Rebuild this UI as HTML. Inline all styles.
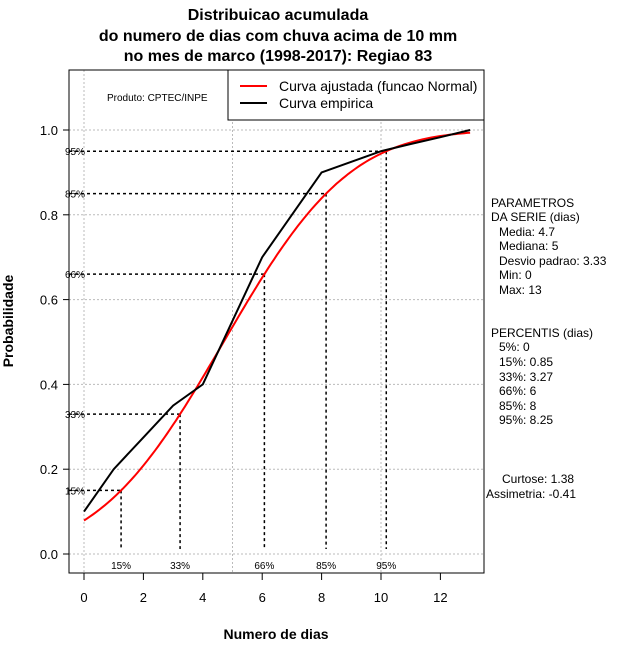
<!DOCTYPE html>
<html><head><meta charset="utf-8"><style>
body{margin:0;background:#fff;}
svg{display:block;font-family:"Liberation Sans",sans-serif;}
</style></head><body>
<svg id="chart" width="640" height="660" viewBox="0 0 640 660">
<g font-weight="bold" font-size="16" text-anchor="middle">
<text x="278" y="20">Distribuicao acumulada</text>
<text x="278" y="41">do numero de dias com chuva acima de 10 mm</text>
<text x="278" y="61">no mes de marco (1998-2017): Regiao 83</text>
</g>
<g id="grid"></g>
<g id="marks"></g>
<rect x="69" y="70" width="415" height="503" fill="none" stroke="#000"/>
<g>
<rect x="228" y="70" width="256" height="50" fill="#fff" stroke="#000"/>
<line x1="240" y1="86" x2="267" y2="86" stroke="#f00" stroke-width="2"/>
<text x="279" y="91" font-size="14">Curva ajustada (funcao Normal)</text>
<line x1="240" y1="103" x2="267" y2="103" stroke="#000" stroke-width="2"/>
<text x="279" y="108" font-size="14">Curva empirica</text>
</g>
<text x="107" y="101" font-size="10">Produto: CPTEC/INPE</text>
<text x="276" y="639" font-size="14" font-weight="bold" text-anchor="middle">Numero de dias</text>
<text transform="translate(13,321) rotate(-90)" font-size="14" font-weight="bold" text-anchor="middle">Probabilidade</text>
<g font-size="12">
<text x="491" y="207">PARAMETROS</text>
<text x="491" y="221">DA SERIE (dias)</text>
<text x="499" y="236">Media: 4.7</text>
<text x="499" y="250">Mediana: 5</text>
<text x="499" y="265">Desvio padrao: 3.33</text>
<text x="499" y="279">Min: 0</text>
<text x="499" y="294">Max: 13</text>
<text x="491" y="337">PERCENTIS (dias)</text>
<text x="499" y="351">5%: 0</text>
<text x="499" y="366">15%: 0.85</text>
<text x="499" y="381">33%: 3.27</text>
<text x="499" y="395">66%: 6</text>
<text x="499" y="410">85%: 8</text>
<text x="499" y="424">95%: 8.25</text>
<text x="502" y="483">Curtose: 1.38</text>
<text x="486" y="498">Assimetria: -0.41</text>
</g>
</svg>
<script>
const empDays=[0,1,2,3,4,5,6,7,8,9,10,11,12,13];
const empProb=[0.1,0.2,0.275,0.35,0.4,0.55,0.7,0.8,0.9,0.925,0.95,0.967,0.983,1.0];
const fitMean=4.7;
const fitSd=3.33;
const pctLevels=[0.15,0.33,0.66,0.85,0.95];
const pctLabels=["15%","33%","66%","85%","95%"];
const xTicks=[0,2,4,6,8,10,12];
const yTicks=[0,0.2,0.4,0.6,0.8,1.0];
const yTickLabels=["0.0","0.2","0.4","0.6","0.8","1.0"];
const xGrid=[0,5,10];

const NS="http://www.w3.org/2000/svg";
const X=v=>84+v*29.7;
const Y=p=>554-p*424;
function mk(t,a,parent){const e=document.createElementNS(NS,t);for(const k in a)e.setAttribute(k,a[k]);parent.appendChild(e);return e;}
function erf(x){const s=Math.sign(x);x=Math.abs(x);const t=1/(1+0.3275911*x);const y=1-(((((1.061405429*t-1.453152027)*t)+1.421413741)*t-0.284496736)*t+0.254829592)*t*Math.exp(-x*x);return s*y;}
const cdf=x=>0.5*(1+erf((x-fitMean)/(fitSd*Math.SQRT2)));
function invcdf(p){let lo=-20,hi=30;for(let i=0;i<60;i++){const m=(lo+hi)/2;if(cdf(m)<p)lo=m;else hi=m;}return (lo+hi)/2;}
const svg=document.getElementById('chart');
const grid=document.getElementById('grid');
const marks=document.getElementById('marks');
yTicks.forEach((t,i)=>{
 const g=mk('line',{x1:69,x2:484,y1:Y(t),y2:Y(t),stroke:'#bbb','stroke-dasharray':'2,2'},grid);
 
 
 const tk=mk('line',{x1:63,x2:69,y1:Y(t),y2:Y(t),stroke:'#000'},grid);
 
 
 const lb=mk('text',{x:58,y:Y(t)+5,'font-size':13,'text-anchor':'end'},grid);
 lb.textContent=yTickLabels[i];
 
 
});
xGrid.forEach(v=>{
 const g=mk('line',{x1:X(v),x2:X(v),y1:70,y2:573,stroke:'#bbb','stroke-dasharray':'2,2'},grid);
 
 
});
xTicks.forEach(v=>{
 const tk=mk('line',{x1:X(v),x2:X(v),y1:573,y2:580,stroke:'#000'},grid);
 
 
 const lb=mk('text',{x:X(v),y:602,'font-size':13,'text-anchor':'middle'},grid);
 lb.textContent=String(v);
 
 
});
pctLevels.forEach((p,i)=>{
 const xv=invcdf(p);
 const h=mk('line',{x1:69,x2:X(xv),y1:Y(p),y2:Y(p),stroke:'#000','stroke-width':1.5,'stroke-dasharray':'3,3'},marks);
 
 
 const v=mk('line',{x1:X(xv),x2:X(xv),y1:Y(p),y2:549,stroke:'#000','stroke-width':1.5,'stroke-dasharray':'3,3'},marks);
 
 
 const l1=mk('text',{x:65,y:Y(p)+4,'font-size':10},marks);
 l1.textContent=pctLabels[i];
 
 
 const l2=mk('text',{x:X(xv),y:569,'font-size':10,'text-anchor':'middle'},marks);
 l2.textContent=pctLabels[i];
 
 
});
let d='';
for(let i=0;i<=130;i++){const xv=i*0.1;d+=(i?'L':'M')+X(xv).toFixed(1)+','+Y(cdf(xv)).toFixed(1);}
const fit=mk('path',{d:d,fill:'none',stroke:'#f00','stroke-width':2},marks);


const emp=mk('polyline',{points:empDays.map((v,i)=>X(v)+','+Y(empProb[i])).join(' '),fill:'none',stroke:'#000','stroke-width':2},marks);


</script>
</body></html>
